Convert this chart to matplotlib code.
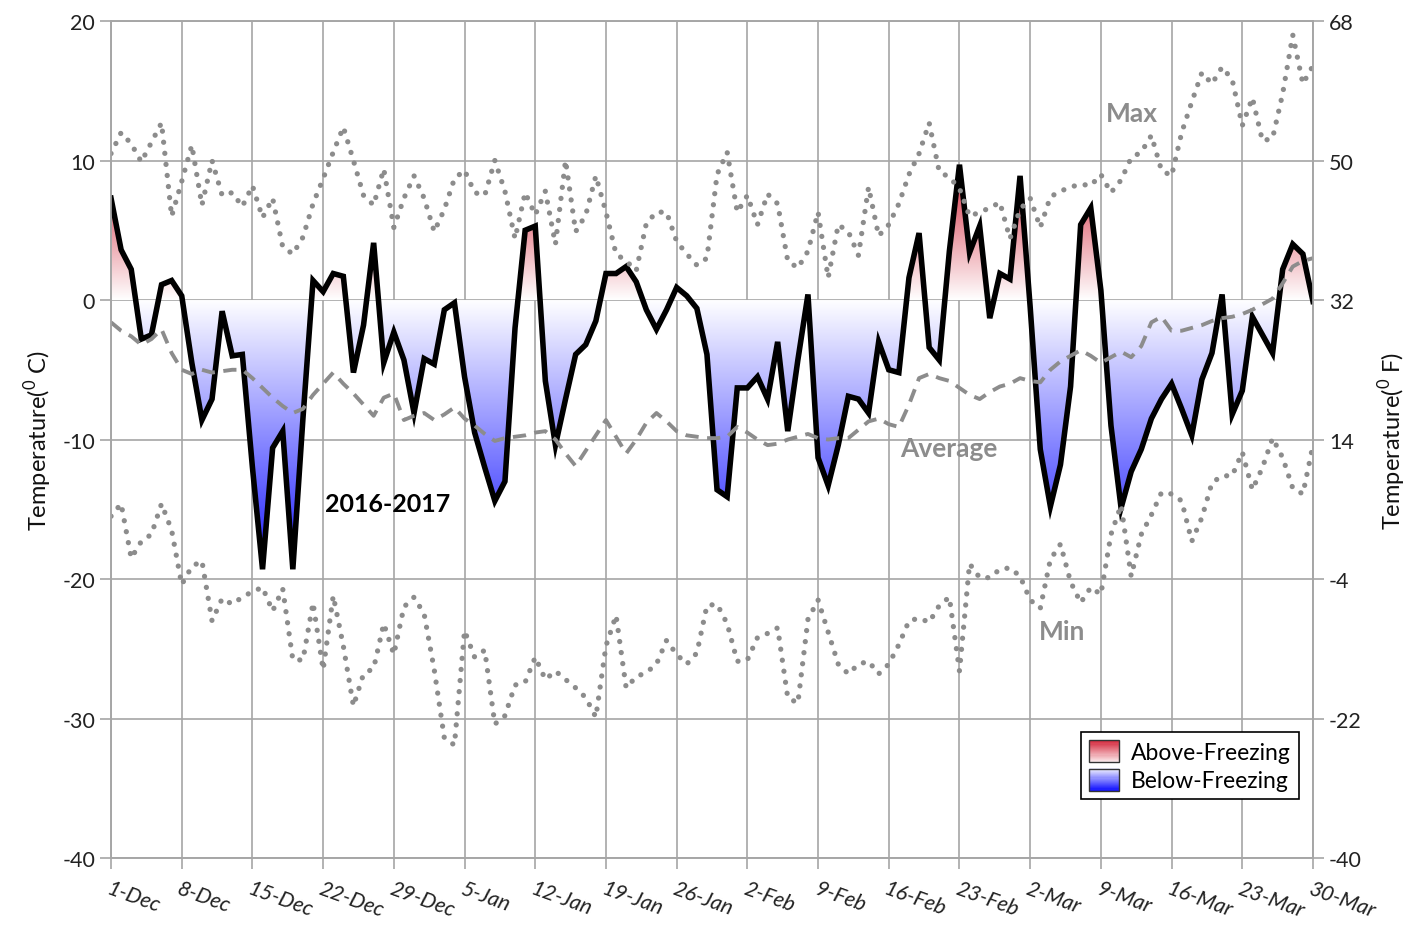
import numpy as np
import matplotlib
matplotlib.use('Agg')
import matplotlib.pyplot as plt
from matplotlib.path import Path
from matplotlib.patches import PathPatch, Rectangle
from matplotlib.colors import LinearSegmentedColormap, to_rgb
from matplotlib.legend_handler import HandlerBase

plt.rcParams['font.family'] = ['Lato', 'DejaVu Sans']
plt.rcParams['mathtext.fontset'] = 'custom'
plt.rcParams['mathtext.rm'] = 'Lato'
plt.rcParams['axes.unicode_minus'] = False

# day index 0 = 1-Dec ... 119 = 30-Mar
tick_days = list(range(0, 120, 7))
tick_labels = ['1-Dec', '8-Dec', '15-Dec', '22-Dec', '29-Dec', '5-Jan', '12-Jan',
               '19-Jan', '26-Jan', '2-Feb', '9-Feb', '16-Feb', '23-Feb', '2-Mar',
               '9-Mar', '16-Mar', '23-Mar', '30-Mar']

# 2016-2017 daily mean temperature (C)
season = [7.3, 3.6, 2.2, -2.8, -2.5, 1.1, 1.4, 0.3, -4.5, -8.6,
          -7.1, -0.8, -4.0, -3.9, -12.0, -19.3, -10.6, -9.4, -19.3, -8.5,
          1.4, 0.6, 1.9, 1.7, -5.2, -1.8, 4.1, -4.5, -2.3, -4.3,
          -8.1, -4.2, -4.6, -0.7, -0.2, -5.5, -9.5, -12.0, -14.4, -13.0,
          -2.0, 5.0, 5.3, -5.8, -10.4, -7.1, -3.9, -3.2, -1.5, 1.9,
          1.9, 2.4, 1.3, -0.7, -2.1, -0.7, 0.9, 0.3, -0.6, -3.9,
          -13.6, -14.1, -6.3, -6.3, -5.5, -7.1, -3.0, -9.4, -4.3, 0.4,
          -11.3, -13.3, -10.4, -6.9, -7.1, -8.1, -3.0, -5.0, -5.2, 1.6,
          4.8, -3.4, -4.3, 3.5, 9.7, 3.4, 5.3, -1.3, 1.9, 1.5,
          8.9, -0.5, -10.7, -14.8, -11.8, -6.2, 5.4, 6.6, 0.7, -9.0,
          -14.9, -12.3, -10.7, -8.5, -7.1, -6.0, -7.8, -9.7, -5.7, -3.8,
          0.4, -8.2, -6.5, -1.2, -2.5, -3.8, 2.2, 4.0, 3.3, -0.1]

# record max / min and long-term average (C)
t_max = [10.5, 12.0, 11.2, 9.9, 11.3, 12.7, 6.0, 8.5, 11.1, 6.8,
         10.0, 7.5, 7.7, 6.7, 8.2, 5.9, 7.3, 3.8, 3.3, 4.5,
         6.9, 8.7, 10.6, 12.4, 10.0, 7.5, 6.8, 9.4, 5.2, 7.3,
         8.9, 7.3, 4.9, 6.5, 8.7, 9.3, 7.7, 7.5, 10.0, 7.8,
         4.4, 7.7, 6.1, 7.8, 4.0, 10.0, 4.9, 6.1, 8.9, 6.3,
         3.3, 2.8, 2.1, 5.5, 6.3, 6.3, 4.2, 3.3, 2.5, 3.0,
         9.0, 10.6, 6.3, 7.5, 5.4, 7.6, 6.9, 2.8, 2.3, 3.5,
         6.3, 1.6, 5.4, 4.9, 3.2, 8.1, 4.6, 5.4, 6.9, 9.0,
         10.5, 12.7, 9.2, 8.8, 8.0, 6.0, 6.3, 6.6, 7.0, 4.4,
         6.5, 7.3, 5.2, 7.4, 7.8, 8.1, 8.3, 8.2, 9.0, 7.7,
         8.6, 10.2, 10.6, 11.8, 9.3, 8.9, 12.0, 14.2, 16.3, 15.5,
         16.7, 15.8, 12.5, 14.5, 11.4, 11.6, 14.8, 19.0, 15.5, 16.8]

t_min = [-15.5, -14.6, -18.5, -17.3, -16.8, -14.6, -16.5, -20.4, -19.1, -18.7,
         -23.0, -21.4, -21.8, -21.3, -20.9, -20.6, -22.3, -20.7, -25.8, -25.8,
         -21.7, -26.5, -21.2, -24.8, -29.1, -26.8, -26.4, -23.2, -25.4, -22.0,
         -21.3, -22.5, -26.5, -31.4, -31.9, -23.7, -25.6, -25.1, -30.4, -29.8,
         -27.6, -27.4, -25.6, -27.2, -26.6, -27.2, -27.8, -28.5, -29.9, -24.8,
         -22.6, -27.8, -27.0, -26.7, -26.1, -24.4, -25.4, -26.1, -25.3, -21.9,
         -21.8, -23.2, -25.9, -25.8, -24.2, -23.9, -23.5, -28.5, -28.9, -22.9,
         -21.5, -23.8, -26.1, -26.8, -26.1, -25.9, -26.8, -26.1, -24.7, -23.0,
         -22.8, -23.1, -21.9, -21.3, -26.6, -18.9, -19.9, -19.9, -19.3, -19.2,
         -19.8, -21.5, -22.1, -18.6, -17.5, -20.2, -21.7, -20.6, -21.1, -16.8,
         -14.7, -19.8, -16.8, -15.4, -13.8, -13.9, -14.4, -17.3, -15.6, -13.1,
         -12.6, -12.6, -10.9, -13.6, -12.0, -9.9, -11.3, -13.5, -13.9, -10.4]

t_avg = [-1.6, -2.2, -2.6, -3.2, -2.8, -2.1, -3.8, -5.0, -5.3, -5.0,
         -5.2, -5.1, -5.0, -5.0, -5.6, -6.3, -7.0, -7.6, -8.1, -7.8,
         -6.8, -6.0, -5.2, -6.0, -6.7, -7.5, -8.3, -7.0, -6.7, -8.6,
         -8.3, -8.1, -8.6, -8.2, -7.7, -8.5, -9.0, -9.6, -10.1, -9.9,
         -9.8, -9.7, -9.5, -9.4, -10.0, -11.0, -11.9, -10.8, -9.7, -8.6,
         -9.8, -11.0, -10.0, -8.8, -8.1, -8.7, -9.4, -9.7, -9.8, -9.9,
         -9.9, -9.8, -9.1, -9.5, -10.0, -10.4, -10.3, -10.0, -9.8, -9.6,
         -9.9, -10.0, -9.9, -9.9, -9.3, -8.7, -8.5, -8.9, -9.1, -7.5,
         -5.6, -5.3, -5.6, -5.8, -6.3, -6.8, -7.1, -6.6, -6.2, -6.0,
         -5.6, -5.8, -5.9, -5.0, -4.4, -4.0, -3.6, -4.0, -4.5, -4.1,
         -3.7, -4.1, -3.3, -1.6, -1.2, -2.2, -2.2, -2.0, -1.8, -1.5,
         -1.3, -1.2, -1.0, -0.7, -0.3, 0.1, 1.2, 2.4, 2.8, 3.0]

RED = '#d4283c'
BLUE = '#1414ff'
GRAY = '#8c8c8c'
GRID = '#a6a6a6'

days = np.arange(len(season))
temp = np.array(season)


def grad_fill(ax, x, y, above, cmap, extent):
    # gradient image clipped to the area between the curve and 0
    where = y >= 0 if above else y <= 0
    coll = ax.fill_between(x, y, 0, where=where, interpolate=True,
                           facecolor='none', edgecolor='none')
    path = Path.make_compound_path(*coll.get_paths())
    patch = PathPatch(path, facecolor='none', edgecolor='none', transform=ax.transData)
    ax.add_patch(patch)
    grad = np.linspace(0, 1, 256).reshape(-1, 1)
    im = ax.imshow(grad, extent=extent, aspect='auto', cmap=cmap,
                   origin='lower', zorder=1, interpolation='bilinear')
    im.set_clip_path(patch)


class GradHandler(HandlerBase):
    def __init__(self, top, bottom):
        super().__init__()
        self.top = np.array(to_rgb(top))
        self.bottom = np.array(to_rgb(bottom))

    def create_artists(self, legend, orig_handle, xdescent, ydescent,
                       width, height, fontsize, trans):
        n = 20
        arts = []
        for i in range(n):
            c = self.bottom + (self.top - self.bottom) * i / (n - 1)
            arts.append(Rectangle((-xdescent, -ydescent + i * height / n), width,
                                  height / n + 0.3, facecolor=c, edgecolor='none',
                                  transform=trans))
        arts.append(Rectangle((-xdescent, -ydescent), width, height, facecolor='none',
                              edgecolor='#333333', lw=1.0, transform=trans))
        return arts


fig = plt.figure(figsize=(14.27, 9.29), dpi=100)
ax = fig.add_axes([0.0778, 0.0753, 0.8423, 0.901])

red_cmap = LinearSegmentedColormap.from_list('r', ['#ffffff', RED])
blue_cmap = LinearSegmentedColormap.from_list('b', [BLUE, '#ffffff'])
grad_fill(ax, days, temp, True, red_cmap, [0, 119, 0, 10])
grad_fill(ax, days, temp, False, blue_cmap, [0, 119, -20, 0])

ax.plot(days, temp, color='black', lw=4, solid_joinstyle='miter', zorder=3)
ax.plot(days, t_avg, color=GRAY, lw=2.8, linestyle=(0, (3.4, 2.2)), zorder=4)
ax.plot(days, t_max, color=GRAY, lw=3.8, linestyle=(0, (0.01, 2.1)),
        dash_capstyle='round', zorder=4)
ax.plot(days, t_min, color=GRAY, lw=3.8, linestyle=(0, (0.01, 2.1)),
        dash_capstyle='round', zorder=4)

ax.set_xlim(0, 119)
ax.set_ylim(-40, 20)
ax.set_xticks(tick_days)
ax.set_xticklabels(tick_labels, rotation=-20, ha='left', va='top',
                   rotation_mode='anchor', fontstyle='italic', fontsize=15.5)
ax.set_yticks(range(-40, 21, 10))
ax.tick_params(axis='y', labelsize=15.5, colors=GRID, labelcolor='#222222', length=8, width=1.2)
ax.tick_params(axis='x', colors=GRID, labelcolor='#222222', length=8, width=1.2, pad=6)
ax.grid(True, color=GRID, lw=1.2)
ax.set_axisbelow(True)
for s in ax.spines.values():
    s.set_color(GRID)
    s.set_linewidth(1.2)
ax.set_ylabel('Temperature($^{\\mathregular{0}}$ C)', fontsize=17, color='#111111', labelpad=6)

ax2 = ax.twinx()
ax2.set_ylim(-40, 68)
ax2.set_yticks([-40, -22, -4, 14, 32, 50, 68])
ax2.tick_params(axis='y', labelsize=15.5, colors=GRID, labelcolor='#222222', length=8, width=1.2)
for s in ax2.spines.values():
    s.set_color(GRID)
    s.set_linewidth(1.2)
ax2.set_ylabel('Temperature($^{\\mathregular{0}}$ F)', fontsize=17, color='#111111', labelpad=10)

ax.text(101.1, 13.4, 'Max', color=GRAY, fontsize=19, fontweight='bold', ha='center', va='center', zorder=5)
ax.text(82.9, -10.6, 'Average', color=GRAY, fontsize=19, fontweight='bold', ha='center', va='center', zorder=5)
ax.text(94.2, -23.7, 'Min', color=GRAY, fontsize=19, fontweight='bold', ha='center', va='center', zorder=5)
ax.text(27.4, -14.6, '2016-2017', color='black', fontsize=18, fontweight='bold', ha='center', va='center', zorder=5)

h_above = Rectangle((0, 0), 1, 1)
h_below = Rectangle((0, 0), 1, 1)
leg = ax.legend([h_above, h_below], ['Above-Freezing', 'Below-Freezing'],
                handler_map={h_above: GradHandler(RED, '#fbe8ea'),
                             h_below: GradHandler('#ececff', BLUE)},
                loc='lower right', bbox_to_anchor=(0.988, 0.07), fontsize=16.5,
                fancybox=False, framealpha=1, edgecolor='black',
                handlelength=1.3, handleheight=1.1, handletextpad=0.5,
                borderpad=0.35, labelspacing=0.25, borderaxespad=0)
leg.get_frame().set_linewidth(1.2)
leg.set_zorder(6)

fig.savefig('out.png', dpi=100)
